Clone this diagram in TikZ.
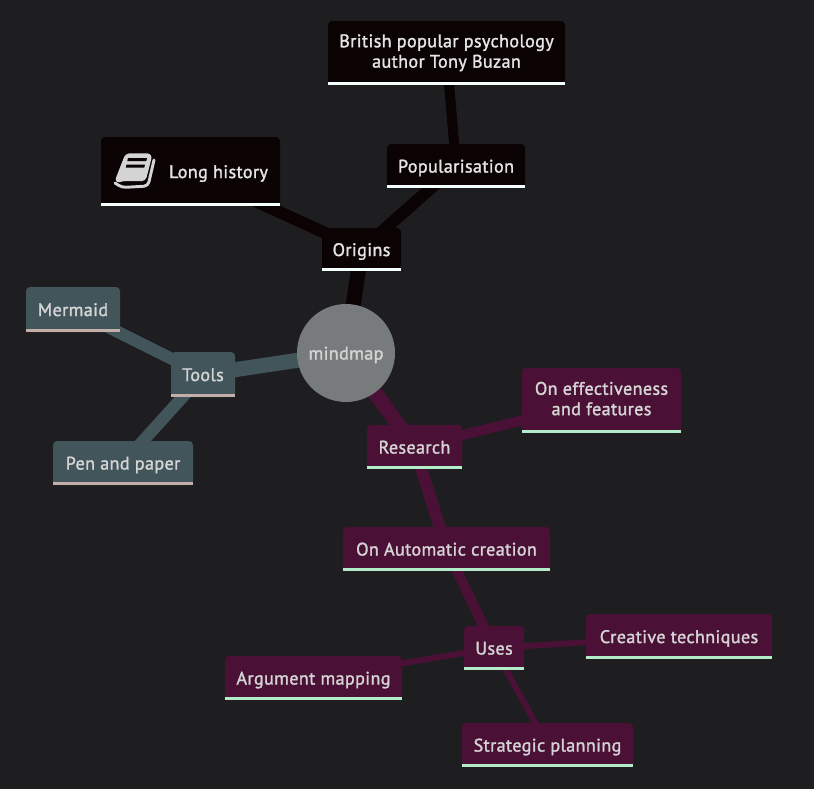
\documentclass[tikz,border=0pt]{standalone}
\usepackage{fontspec}
\setmainfont{PT Sans}[RawFeature={embolden=1.6},LetterSpace=2]
\usetikzlibrary{backgrounds}
\definecolor{pagebg}{HTML}{1E1E20}
\definecolor{rootfill}{HTML}{777B7B}
\definecolor{originfill}{HTML}{0A0203}
\definecolor{originbar}{HTML}{F4FFFD}
\definecolor{toolfill}{HTML}{42555B}
\definecolor{toolbar}{HTML}{C4AEA9}
\definecolor{researchfill}{HTML}{4B1036}
\definecolor{researchbar}{HTML}{B3ECC9}
\definecolor{mapgray}{HTML}{D4D4D4}
\tikzset{
    mapfont/.style={font=\fontsize{13.6}{15.3}\selectfont,execute at begin node={\rule[-3pt]{0pt}{15.8pt}},execute at end node={\rule[-3pt]{0pt}{15.8pt}}},
    mapnode/.style={rectangle,rounded corners=3pt,inner sep=0pt,align=center,text=mapgray,mapfont},
    originnode/.style={mapnode,fill=originfill,text=white!90!black},
    toolnode/.style={mapnode,fill=toolfill},
    researchnode/.style={mapnode,fill=researchfill},
    thick1/.style={line width=11.25pt},
    thick2/.style={line width=9pt},
    thick3/.style={line width=7.5pt},
    thick4/.style={line width=4.5pt}
}
\begin{document}
\begin{tikzpicture}[x=.75pt,y=-.75pt]

        \useasboundingbox (0,0) rectangle (814,789);

        %Root
        \node (mindmap) at (346,353) [circle,fill=rootfill,text=mapgray,minimum size=73.5pt,inner sep=0pt,mapfont] {mindmap};

        %Origins branch
        \node (origins) at (361.5,249.5) [originnode,minimum width=59.25pt,minimum height=32.25pt] {Origins};
        \node (history) at (190.5,171.5) [originnode,minimum width=134.25pt,minimum height=51.75pt] {\hspace{42pt}Long history};
        \node (popular) at (456,166) [originnode,minimum width=103.5pt,minimum height=33pt] {Popularisation};
        \node (buzan) at (446.5,53) [originnode,minimum width=177.75pt,minimum height=48pt] {British popular psychology\\author Tony Buzan};

        %Tools branch
        \node (tools) at (203,374.5) [toolnode,minimum width=48pt,minimum height=33.75pt] {Tools};
        \node (mermaid) at (73,309.5) [toolnode,minimum width=70.5pt,minimum height=33.75pt] {Mermaid};
        \node (pen) at (123,463) [toolnode,minimum width=105pt,minimum height=33pt] {Pen and paper};

        %Research branch
        \node (research) at (414.5,447) [researchnode,minimum width=71.25pt,minimum height=33pt] {Research};
        \node (effect) at (601.5,400.5) [researchnode,minimum width=119.25pt,minimum height=48.75pt] {On effectiveness\\and features};
        \node (automatic) at (446.5,549) [researchnode,minimum width=155.25pt,minimum height=33pt] {On Automatic creation};
        \node (uses) at (494,648) [researchnode,minimum width=45pt,minimum height=33pt] {Uses};
        \node (creative) at (679,636.5) [researchnode,minimum width=139.5pt,minimum height=33.75pt] {Creative techniques};
        \node (argument) at (313.5,678) [researchnode,minimum width=132.75pt,minimum height=33pt] {Argument mapping};
        \node (strategic) at (547.5,745) [researchnode,minimum width=128.25pt,minimum height=33pt] {Strategic planning};

        %Connecting lines behind the nodes
        \begin{scope}[on background layer]
        \fill [pagebg] (0,0) rectangle (814,789);
        \draw [originfill,thick1] (mindmap.center) -- (origins.center);
        \draw [originfill,thick2] (origins.center) -- (history.center);
        \draw [originfill,thick2] (origins.center) -- (popular.center);
        \draw [originfill,thick3] (popular.center) -- (buzan.center);
        \draw [toolfill,thick1] (mindmap.center) -- (tools.center);
        \draw [toolfill,thick2] (tools.center) -- (mermaid.center);
        \draw [toolfill,thick2] (tools.center) -- (pen.center);
        \draw [researchfill,thick1] (mindmap.center) -- (research.center);
        \draw [researchfill,thick3] (research.center) -- (effect.center);
        \draw [researchfill,thick2] (research.center) -- (automatic.center);
        \draw [researchfill,thick3] (automatic.center) -- (uses.center);
        \draw [researchfill,thick4] (uses.center) -- (creative.center);
        \draw [researchfill,thick4] (uses.center) -- (argument.center);
        \draw [researchfill,thick4] (uses.center) -- (strategic.center);
        \end{scope}

        %Square lower corners and bottom bars
        \foreach \n/\c/\b in {origins/originfill/originbar,history/originfill/originbar,popular/originfill/originbar,buzan/originfill/originbar,
            tools/toolfill/toolbar,mermaid/toolfill/toolbar,pen/toolfill/toolbar,
            research/researchfill/researchbar,effect/researchfill/researchbar,automatic/researchfill/researchbar,uses/researchfill/researchbar,creative/researchfill/researchbar,argument/researchfill/researchbar,strategic/researchfill/researchbar}{
            \fill [\c] ([yshift=4pt]\n.south west) rectangle (\n.south east);
            \fill [\b] ([yshift=2.6pt]\n.south west) rectangle (\n.south east);
        }

        %Book icon
        \draw [mapgray,fill=mapgray,line width=3.2pt,line join=round,rounded corners=2pt] (127,155.5) -- (150,155.5) -- (144,179) -- (122,179) -- (117,181) -- cycle;
        \draw [mapgray,line width=2.2pt,line cap=round,rounded corners=3pt] (154,160) -- (148,186) -- (122,187.5) -- (115,183);
        \fill [originfill] (128,158) -- (147,158) -- (146.3,161) -- (127.3,161) -- cycle;
        \fill [originfill] (126.5,164.5) -- (145,164.5) -- (144.3,167.5) -- (125.8,167.5) -- cycle;

\end{tikzpicture}
\end{document}
